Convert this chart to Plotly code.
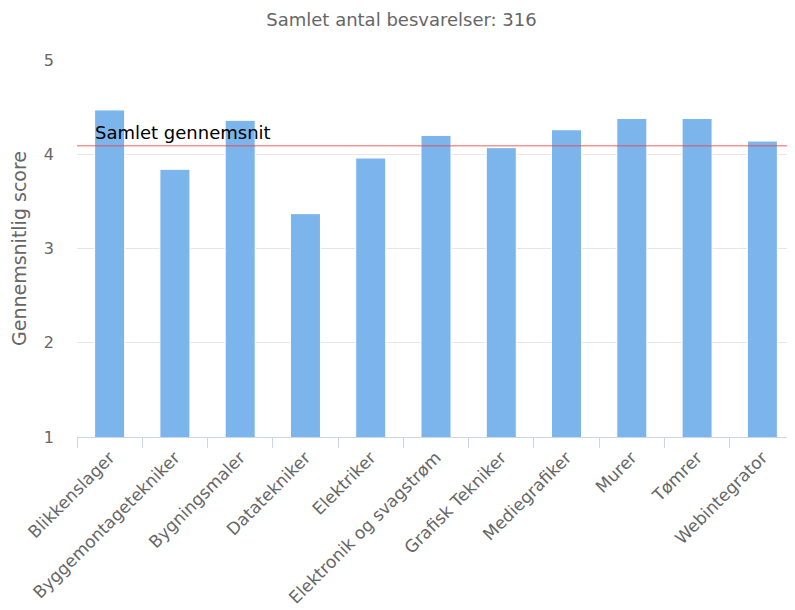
import plotly.graph_objects as go

categories = ["Blikkenslager", "Byggemontagetekniker", "Bygningsmaler", "Datatekniker",
              "Elektriker", "Elektronik og svagstrøm", "Grafisk Tekniker", "Mediegrafiker",
              "Murer", "Tømrer", "Webintegrator"]
scores = [4.47, 3.84, 4.36, 3.37, 3.96, 4.20, 4.07, 4.26, 4.38, 4.38, 4.14]
overall_avg = 4.09
title_text = "Samlet antal besvarelser: 316"
y_title = "Gennemsnitlig score"
avg_label = "Samlet gennemsnit"

font_family = "DejaVu Sans, Lucida Grande, sans-serif"

fig = go.Figure()
fig.add_trace(go.Bar(
    x=categories, y=scores,
    marker=dict(color="#7cb5ec", line=dict(color="#ffffff", width=1)),
    hoverinfo="x+y",
))

fig.add_shape(type="line", xref="paper", yref="y", x0=0, x1=1,
              y0=overall_avg, y1=overall_avg,
              line=dict(color="rgba(240,60,60,0.55)", width=1.5), layer="above")
fig.add_annotation(xref="paper", yref="y", x=0.022, y=overall_avg, text=avg_label,
                   showarrow=False, xanchor="left", yanchor="bottom", yshift=1,
                   font=dict(family=font_family, size=18, color="#000000"))

fig.update_layout(
    width=787, height=602,
    margin=dict(l=69, r=0, t=52, b=173, autoexpand=False),
    paper_bgcolor="white", plot_bgcolor="white",
    showlegend=False,
    bargap=0.54,
    title=dict(text=title_text, x=0.5, xanchor="center", y=1 - 12 / 602, yanchor="middle",
               font=dict(family=font_family, size=18, color="#666666")),
    font=dict(family=font_family, color="#666666"),
    xaxis=dict(
        type="category", tickangle=-45, tickson="boundaries", ticks="outside",
        ticklen=10, tickcolor="#ccd6eb", showline=True, linecolor="#ccd6eb",
        linewidth=1, showgrid=False, ticklabelstandoff=3, automargin=False,
        tickfont=dict(family=font_family, size=17, color="#666666"),
    ),
    yaxis=dict(
        range=[1, 5], tickvals=[1, 2, 3, 4, 5], showgrid=True, gridcolor="#e6e6e6",
        gridwidth=1, zeroline=False, showline=False, ticks="", automargin=False,
        ticklabelstandoff=22,
        tickfont=dict(family=font_family, size=16, color="#666666"),
        title=dict(text=y_title, font=dict(family=font_family, size=19, color="#666666"),
                   standoff=14),
    ),
)

fig.write_html("out.html")
